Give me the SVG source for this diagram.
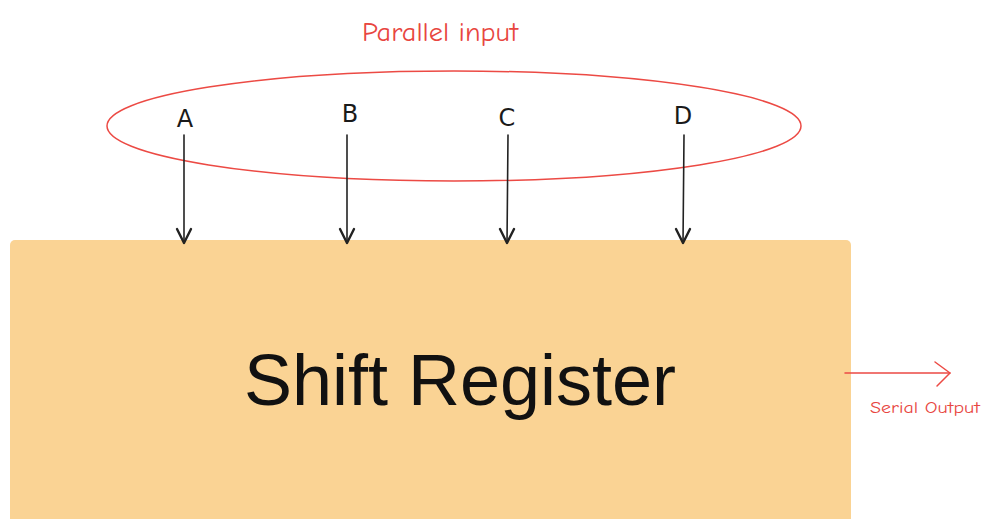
<svg xmlns="http://www.w3.org/2000/svg" width="987" height="519" viewBox="0 0 987 519">
  <style>
    .hand-red { font-family: "Comic Neue", "DejaVu Sans", sans-serif; fill: #e8463f; }
    .letter { font-family: "DejaVu Sans", sans-serif; font-size: 24px; fill: #1a1a1a; text-anchor: middle; }
    .wire { stroke: #222; stroke-width: 1.6; fill: none; stroke-linecap: round; }
    .head { stroke: #222; stroke-width: 2.4; fill: none; stroke-linecap: round; stroke-linejoin: round; }
    .red { stroke: #ec4a44; stroke-width: 1.5; fill: none; stroke-linecap: round; stroke-linejoin: round; }
  </style>
  <rect width="987" height="519" fill="#ffffff"/>

  <!-- register block -->
  <g id="shift-register">
    <rect x="10" y="240" width="841" height="290" rx="5" fill="#fad394"/>
    <text x="460" y="405" font-family="Liberation Sans, Arial, sans-serif" font-size="72" fill="#111" text-anchor="middle">Shift Register</text>
  </g>

  <!-- parallel input group -->
  <g id="parallel-input">
    <ellipse cx="454" cy="126" rx="347" ry="55" class="red"/>
    <text x="362" y="41" class="hand-red" font-size="26" textLength="156" lengthAdjust="spacingAndGlyphs">Parallel input</text>
  </g>

  <g id="input-a"><text x="185" y="127" class="letter">A</text></g>
  <g id="input-b"><text x="350" y="122" class="letter">B</text></g>
  <g id="input-c"><text x="507" y="126" class="letter">C</text></g>
  <g id="input-d"><text x="683" y="124" class="letter">D</text></g>

  <g id="serial-output">
    <text x="870" y="413" class="hand-red" font-size="15" textLength="110" lengthAdjust="spacingAndGlyphs">Serial Output</text>
  </g>

  <!-- connectors -->
  <g id="connectors">
    <path class="wire" d="M184 135 L184 243"/>
    <path class="head" d="M177 229 L184 243 L191 229"/>
    <path class="wire" d="M347 135 L347 243"/>
    <path class="head" d="M340 229 L347 243 L354 229"/>
    <path class="wire" d="M508 135 L507 243"/>
    <path class="head" d="M500 229 L507 243 L514 229"/>
    <path class="wire" d="M684 135 L683 243"/>
    <path class="head" d="M676 229 L683 243 L690 229"/>
    <path class="red" d="M845 373 L950 373"/>
    <path class="red" d="M935 362 L950 373 L937 386"/>
  </g>
</svg>
